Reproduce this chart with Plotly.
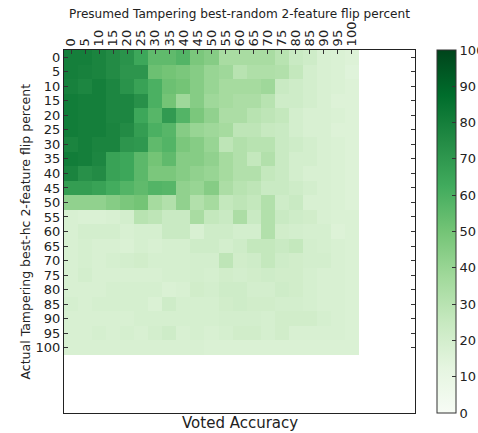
import plotly.graph_objects as go

# Flip percentages on both axes (0..100 in steps of 5)
presumed_pct = list(range(0, 101, 5))
actual_pct = list(range(0, 101, 5))

# Voted accuracy grid: one row per actual flip percent, one column per presumed flip percent
row_000 = [80, 80, 78, 75, 72, 64, 55, 55, 58, 48, 45, 35, 35, 35, 35, 30, 24, 22, 18, 17, 16]
row_005 = [80, 79, 78, 75, 71, 71, 52, 50, 48, 45, 40, 38, 30, 33, 33, 32, 26, 20, 18, 17, 15]
row_010 = [79, 77, 80, 77, 72, 66, 60, 52, 50, 45, 40, 36, 36, 36, 38, 24, 22, 20, 18, 17, 16]
row_015 = [81, 80, 80, 77, 77, 73, 60, 50, 38, 45, 38, 36, 34, 34, 30, 22, 22, 20, 18, 16, 16]
row_020 = [81, 80, 80, 77, 77, 64, 57, 69, 58, 48, 42, 34, 34, 30, 28, 26, 20, 18, 18, 17, 16]
row_025 = [81, 80, 80, 78, 75, 68, 60, 57, 45, 40, 38, 36, 28, 28, 25, 24, 20, 18, 18, 16, 16]
row_030 = [78, 80, 78, 78, 71, 70, 55, 58, 48, 45, 40, 28, 32, 30, 30, 24, 22, 20, 18, 17, 16]
row_035 = [81, 80, 77, 66, 64, 56, 50, 55, 45, 45, 42, 36, 32, 26, 32, 24, 20, 20, 18, 17, 16]
row_040 = [78, 73, 75, 66, 64, 56, 48, 48, 45, 42, 40, 36, 32, 32, 26, 24, 20, 18, 18, 17, 16]
row_045 = [68, 68, 66, 62, 58, 55, 58, 57, 42, 40, 45, 34, 30, 28, 24, 24, 22, 20, 18, 17, 16]
row_050 = [42, 42, 42, 45, 48, 50, 36, 32, 42, 32, 36, 26, 28, 26, 32, 22, 24, 18, 18, 17, 16]
row_055 = [18, 17, 17, 18, 20, 30, 28, 24, 24, 35, 26, 24, 34, 24, 32, 24, 22, 21, 18, 17, 17]
row_060 = [18, 20, 20, 20, 18, 19, 19, 24, 24, 18, 22, 22, 20, 20, 32, 21, 20, 19, 19, 16, 17]
row_065 = [18, 19, 18, 18, 17, 19, 18, 19, 19, 22, 22, 20, 22, 26, 26, 24, 26, 20, 19, 18, 17]
row_070 = [18, 19, 18, 19, 20, 21, 19, 19, 19, 20, 20, 28, 21, 22, 26, 22, 21, 20, 20, 18, 17]
row_075 = [18, 20, 18, 18, 18, 18, 18, 19, 19, 20, 19, 21, 20, 21, 22, 21, 21, 19, 18, 18, 17]
row_080 = [18, 18, 18, 19, 19, 19, 19, 17, 18, 21, 20, 22, 22, 20, 20, 22, 21, 19, 18, 18, 17]
row_085 = [19, 18, 19, 19, 19, 19, 17, 22, 19, 19, 19, 21, 22, 21, 21, 20, 20, 19, 18, 18, 17]
row_090 = [18, 18, 18, 18, 18, 19, 19, 19, 19, 19, 19, 20, 20, 20, 19, 21, 21, 21, 19, 18, 17]
row_095 = [18, 18, 19, 18, 19, 18, 20, 22, 18, 19, 18, 19, 21, 21, 19, 21, 18, 18, 18, 18, 17]
row_100 = [18, 18, 18, 18, 18, 18, 18, 18, 18, 18, 17, 17, 17, 17, 17, 17, 17, 17, 17, 17, 17]

accuracy = [row_000, row_005, row_010, row_015, row_020, row_025, row_030, row_035,
            row_040, row_045, row_050, row_055, row_060, row_065, row_070, row_075,
            row_080, row_085, row_090, row_095, row_100]

tick_vals = list(range(0, 101, 5))
cbar_ticks = list(range(0, 101, 10))

greens = [
    [0.0, "rgb(247,252,245)"], [0.125, "rgb(229,245,224)"], [0.25, "rgb(199,233,192)"],
    [0.375, "rgb(161,217,155)"], [0.5, "rgb(116,196,118)"], [0.625, "rgb(65,171,93)"],
    [0.75, "rgb(35,139,69)"], [0.875, "rgb(0,109,44)"], [1.0, "rgb(0,68,27)"],
]

font_family = "DejaVu Sans"
W, H = 478, 433
PLOT_L, PLOT_R, PLOT_T, PLOT_B = 64, 415, 50, 413
plot_w = PLOT_R - PLOT_L
plot_h = PLOT_B - PLOT_T

fig = go.Figure(go.Heatmap(
    x=presumed_pct,
    y=actual_pct,
    z=accuracy,
    zmin=0,
    zmax=100,
    colorscale=greens,
    colorbar=dict(
        x=437 / W, xanchor="left", xref="container",
        y=0.5, yanchor="middle", yref="paper", len=1.0, lenmode="fraction",
        thickness=19, thicknessmode="pixels",
        outlinecolor="#333333", outlinewidth=1,
        tickvals=cbar_ticks, ticks="inside", ticklen=4, tickcolor="#333333",
        tickfont=dict(family=font_family, size=13, color="#222222"),
        xpad=0, ypad=0,
    ),
))

axis_common = dict(
    showgrid=False, zeroline=False,
    showline=True, linecolor="#222222", linewidth=1,
    ticks="inside", ticklen=4, tickcolor="#333333",
    tickfont=dict(family=font_family, size=13, color="#222222"),
    tickvals=tick_vals, ticktext=[str(v) for v in tick_vals],
)

fig.update_layout(
    width=W, height=H,
    margin=dict(l=PLOT_L, r=W - PLOT_R, t=PLOT_T, b=H - PLOT_B, autoexpand=False),
    paper_bgcolor="white", plot_bgcolor="white",
    font=dict(family=font_family, color="#222222"),
    title=dict(
        text="Presumed Tampering best-random 2-feature flip percent",
        x=0.5, xref="paper", xanchor="center",
        y=1 - 14 / H, yanchor="middle", yref="container",
        font=dict(family=font_family, size=12.1, color="#222222"),
    ),
    xaxis=dict(axis_common, side="top", range=[-2.5, 122.5], tickangle=-90,
               mirror=True),
    yaxis=dict(axis_common, range=[122.5, -2.5], mirror="ticks"),
    annotations=[
        dict(
            text="Voted Accuracy", x=0.5, xref="paper", xanchor="center",
            y=-10 / plot_h, yref="paper", yanchor="middle", showarrow=False,
            font=dict(family=font_family, size=15, color="#222222"),
        ),
        dict(
            text="Actual Tampering best-hc 2-feature flip percent",
            x=(25 - PLOT_L) / plot_w, xref="paper", xanchor="center",
            y=0.5, yref="paper", yanchor="middle", textangle=-90, showarrow=False,
            font=dict(family=font_family, size=12.5, color="#222222"),
        ),
    ],
)

fig.write_html("out.html")
